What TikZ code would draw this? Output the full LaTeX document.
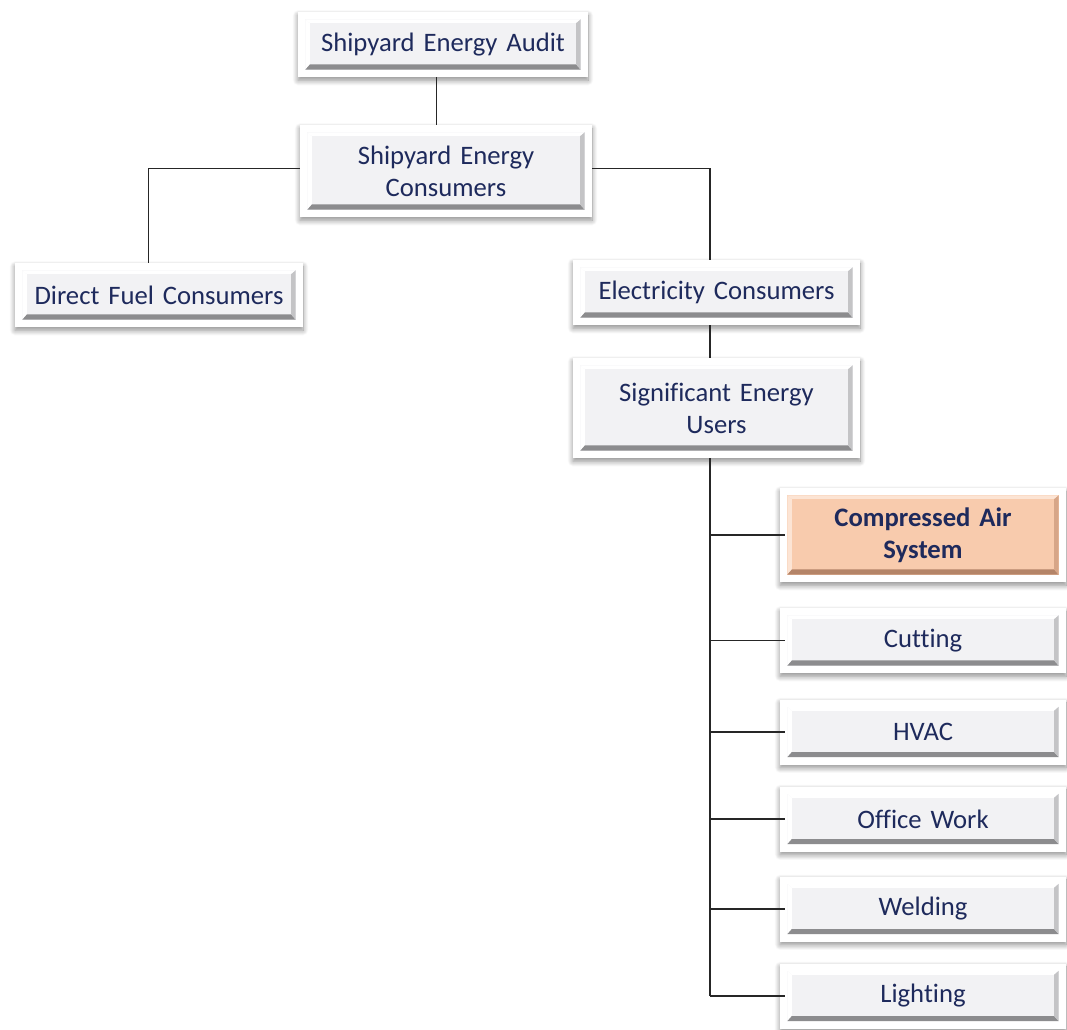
\documentclass[tikz,border=0pt]{standalone}
\usepackage{fontspec}
\setmainfont{Carlito}[Ligatures=NoCommon, WordSpace={0.75}]
\usetikzlibrary{calc,shadows.blur}

\definecolor{navytext}{RGB}{30,42,92}
\definecolor{btnface}{RGB}{242,242,244}
\definecolor{btndark}{RGB}{140,140,142}
\definecolor{btnmid}{RGB}{196,196,198}
\definecolor{peachface}{RGB}{248,203,173}
\definecolor{peachlight}{RGB}{252,228,212}
\definecolor{peachdark}{RGB}{180,132,104}
\definecolor{peachmid}{RGB}{215,166,136}

% Bevelled button drawn inside the white frame of a node
% #1 face, #2 light edge, #3 dark (bottom) edge, #4 side (right) edge
\newcommand\bevelbtn[4]{%
  \coordinate (bsw) at ($(path picture bounding box.south west)+(5.5pt,5.5pt)$);
  \coordinate (bne) at ($(path picture bounding box.north east)+(-5.5pt,-5.5pt)$);
  \coordinate (isw) at ($(bsw)+(3.5pt,4pt)$);
  \coordinate (ine) at ($(bne)+(-3.5pt,-3pt)$);
  \fill[#1] (bsw) rectangle (bne);
  \fill[#2] (bsw|-bne) -- (bne) -- (ine) -- (isw|-ine) -- cycle;
  \fill[#2] (bsw) -- (bsw|-bne) -- (isw|-ine) -- (isw) -- cycle;
  \fill[#3] (bsw) -- (bne|-bsw) -- (ine|-isw) -- (isw) -- cycle;
  \fill[#4] (bne|-bsw) -- (bne) -- (ine) -- (ine|-isw) -- cycle;
  \fill[#1] (isw) rectangle (ine);
}

\tikzset{
  sz/.style 2 args={minimum width=#1*0.75pt, minimum height=#2*0.75pt,
                    text width=#1*0.75pt-24pt},
  orgbox/.style={rectangle, fill=white, draw=none, inner sep=0pt,
    align=center, text=navytext,
    font=\fontsize{20}{24}\selectfont,
    blur shadow={shadow xshift=0pt, shadow yshift=-2.5pt,
                 shadow blur steps=10, shadow blur radius=4pt,
                 shadow opacity=45},
    path picture={\bevelbtn{btnface}{white}{btndark}{btnmid}}},
  orgboxhi/.style={orgbox,
    font=\fontsize{20}{24}\selectfont\bfseries,
    path picture={\bevelbtn{peachface}{peachlight}{peachdark}{peachmid}}},
  link/.style={draw=black!85, line width=0.8pt}
}

\begin{document}
\begin{tikzpicture}[x=0.75pt, y=-0.75pt]
  \useasboundingbox (0,0) rectangle (1067,1030);

  % upper levels
  \node[orgbox, sz={290}{65}] (audit) at (443,44.5) {Shipyard Energy Audit};
  \node[orgbox, sz={292}{92}] (consumers) at (446,171) {Shipyard Energy\\Consumers};
  \node[orgbox, sz={288}{64}] (direct) at (159,295) {Direct Fuel Consumers};
  \node[orgbox, sz={287}{65}] (elec) at (716.5,292.5) {Electricity Consumers};
  \node[orgbox, sz={287}{100}] (seu) at (716.5,408) {Significant Energy\\Users};

  % significant energy users
  \node[orgboxhi, sz={286}{94}] (air) at (923,535) {Compressed Air\\System};
  \node[orgbox, sz={286}{65}] (cutting) at (923,640.5) {Cutting};
  \node[orgbox, sz={286}{65}] (hvac) at (923,732) {HVAC};
  \node[orgbox, sz={286}{65}] (office) at (923,819) {Office Work};
  \node[orgbox, sz={286}{65}] (welding) at (923,909) {Welding};
  \node[orgbox, sz={286}{65}] (lighting) at (923,996) {Lighting};

  % trunk of the right branch
  \coordinate (bus) at (710,0);

  % connectors
  \draw[link] ([xshift=-5pt]audit.south) -- ([xshift=-5pt]audit.south |- consumers.north);
  \draw[link] ([yshift=2pt]consumers.west) -| ([xshift=-8pt]direct.north);
  \draw[link] ([yshift=2pt]consumers.east) -| (bus |- elec.north);
  \draw[link] (bus |- elec.south) -- (bus |- seu.north);
  \draw[link] (bus |- seu.south) -- (bus |- lighting.west);
  \foreach \n in {air,cutting,hvac,office,welding,lighting}
    \draw[link] (bus |- \n.west) -- ([xshift=4pt]\n.west);
\end{tikzpicture}
\end{document}
